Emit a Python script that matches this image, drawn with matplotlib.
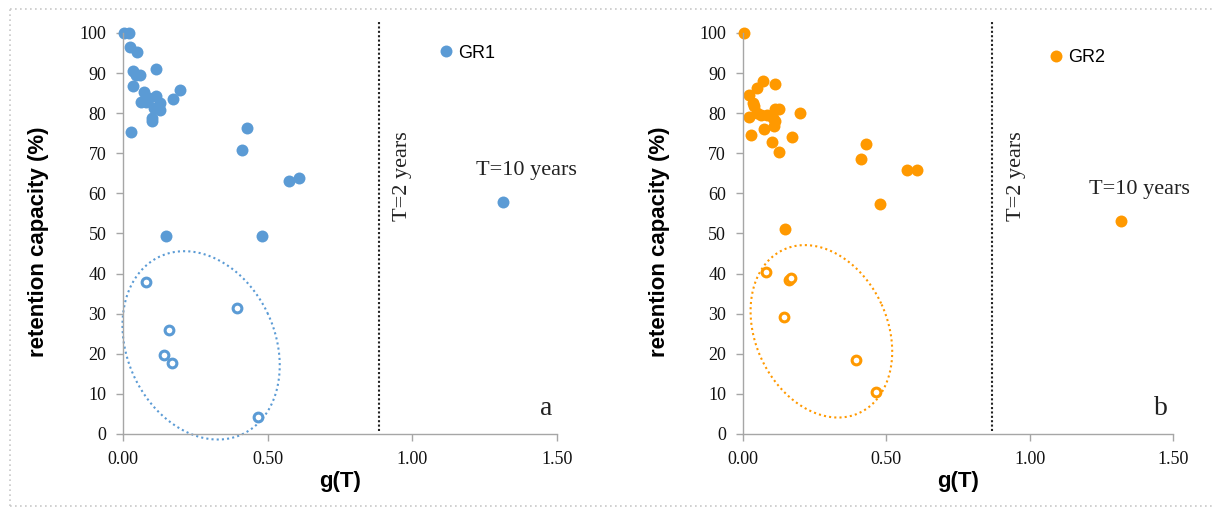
import numpy as np
import matplotlib
matplotlib.use("Agg")
import matplotlib.pyplot as plt
from matplotlib.lines import Line2D

# panel a (GR1)
gr1_filled_g = [0.003, 0.020, 0.024, 0.049, 0.033, 0.045, 0.060, 0.034, 0.113, 0.072,
                0.063, 0.080, 0.090, 0.114, 0.128, 0.107, 0.128, 0.102, 0.102, 0.173,
                0.198, 0.028, 0.429, 0.411, 0.574, 0.610, 0.148, 0.480]
gr1_filled_v = [100.0, 100.0, 96.6, 95.3, 90.5, 89.6, 89.5, 86.9, 91.1, 85.4,
                82.9, 82.8, 83.8, 84.4, 82.5, 81.2, 80.8, 78.7, 78.1, 83.6,
                85.9, 75.4, 76.4, 70.7, 63.2, 63.9, 49.3, 49.4]
gr1_open_g = [0.079, 0.160, 0.142, 0.169, 0.394, 0.467]
gr1_open_v = [37.9, 26.0, 19.7, 17.6, 31.4, 4.3]
gr1_t10 = (1.315, 57.9)

# panel b (GR2)
gr2_filled_g = [0.006, 0.021, 0.049, 0.072, 0.114, 0.037, 0.040, 0.023, 0.049, 0.065,
                0.083, 0.111, 0.128, 0.107, 0.114, 0.109, 0.028, 0.073, 0.102, 0.128,
                0.172, 0.198, 0.412, 0.428, 0.479, 0.148, 0.571, 0.608]
gr2_filled_v = [100.0, 84.6, 86.3, 88.1, 87.3, 82.6, 81.8, 79.0, 80.0, 79.6,
                79.6, 81.0, 81.0, 78.8, 78.0, 76.7, 74.6, 76.1, 72.7, 70.4,
                74.0, 80.0, 68.6, 72.2, 57.4, 51.1, 65.9, 65.9]
gr2_open_g = [0.080, 0.160, 0.169, 0.145, 0.393, 0.465]
gr2_open_v = [40.3, 38.5, 38.9, 29.2, 18.4, 10.5]
gr2_t10 = (1.316, 53.0)

blue = "#5B9BD5"
orange = "#FF9900"
axis_grey = "#a6a6a6"

fig = plt.figure(figsize=(12.14, 5.08), dpi=100)

panels = [
    dict(rect=[0.1013, 0.1457, 0.3575, 0.7894], col=blue, name="GR1",
         fg=gr1_filled_g, fv=gr1_filled_v, og=gr1_open_g, ov=gr1_open_v, t10=gr1_t10,
         t2=0.886, leg=(0.730, 0.950), t10_txt=(1.393, 64.6), t2_txt=(0.983, 64.2),
         letter="a", let_xy=(1.462, 4.7),
         ell=dict(c=(0.270, 22.1), a=74, b=98, px=290.0)),
    dict(rect=[0.6118, 0.1457, 0.3547, 0.7894], col=orange, name="GR2",
         fg=gr2_filled_g, fv=gr2_filled_v, og=gr2_open_g, ov=gr2_open_v, t10=gr2_t10,
         t2=0.868, leg=(0.7126, 0.938), t10_txt=(1.383, 59.9), t2_txt=(0.971, 64.2),
         letter="b", let_xy=(1.456, 4.8),
         ell=dict(c=(0.274, 25.6), a=66, b=90, px=287.3)),
]

serif = ["Liberation Serif", "DejaVu Serif"]
sans = ["Liberation Sans", "DejaVu Sans"]

for p in panels:
    ax = fig.add_axes(p["rect"])
    col = p["col"]
    fg = list(p["fg"]) + [p["t10"][0]]
    fv = list(p["fv"]) + [p["t10"][1]]
    ax.plot(fg, fv, "o", color=col, ms=8.6, mew=0, ls="none", clip_on=False,
            label=p["name"])
    ax.plot(p["og"], p["ov"], "o", mfc="white", mec=col, ms=6.3, mew=2.2,
            ls="none", clip_on=False)

    # dotted ellipse around the open points (built in pixel space, mapped to data)
    e = p["ell"]
    t = np.linspace(0, 2 * np.pi, 300)
    phi = np.deg2rad(25)
    dx = e["a"] * np.cos(t) * np.cos(phi) - e["b"] * np.sin(t) * np.sin(phi)
    dy = e["a"] * np.cos(t) * np.sin(phi) + e["b"] * np.sin(t) * np.cos(phi)
    ax.plot(e["c"][0] + dx / e["px"], e["c"][1] + dy / 4.01, color=col,
            lw=1.5, ls=(0, (1, 1.5)), clip_on=False)

    # T = 2 years threshold
    ax.plot([p["t2"], p["t2"]], [0.7, 102.8], color="#222222", lw=1.5,
            ls=(0, (1, 1.1)), clip_on=False)
    ax.text(p["t2_txt"][0], p["t2_txt"][1], "T=2 years", rotation=90,
            rotation_mode="anchor", ha="center", va="baseline",
            fontsize=16, family=serif, color="#222222")
    ax.text(p["t10_txt"][0], p["t10_txt"][1], "T=10 years", ha="center",
            va="baseline", fontsize=16, family=serif, color="#222222")
    ax.text(p["let_xy"][0], p["let_xy"][1], p["letter"], ha="center",
            va="baseline", fontsize=20, family=serif, color="#222222")

    ax.legend(loc="center left", bbox_to_anchor=p["leg"], frameon=False,
              borderpad=0, borderaxespad=0, handlelength=0.7,
              handletextpad=0.3, prop=dict(family=sans, size=13))

    ax.set_xlim(0, 1.5)
    ax.set_ylim(0, 100)
    ax.set_xticks([0, 0.5, 1.0, 1.5])
    ax.set_xticklabels(["0.00", "0.50", "1.00", "1.50"])
    ax.set_yticks(range(0, 101, 10))
    for s in ["top", "right"]:
        ax.spines[s].set_visible(False)
    for s in ["left", "bottom"]:
        ax.spines[s].set_color(axis_grey)
        ax.spines[s].set_linewidth(1.0)
    ax.tick_params(axis="both", direction="out", length=5, width=1,
                   color=axis_grey, labelsize=13, labelcolor="#111111")
    ax.tick_params(axis="y", pad=7)
    ax.tick_params(axis="x", pad=7)
    for lab in ax.get_xticklabels() + ax.get_yticklabels():
        lab.set_family(serif)

    ax.set_xlabel("g(T)", fontsize=16, fontweight="bold", family=sans)
    ax.set_ylabel("retention capacity (%)", fontsize=16, fontweight="bold",
                  family=sans)
    ax.xaxis.set_label_coords(0.5, -0.092)
    ax.yaxis.set_label_coords(-0.17, 0.48)

# dotted frame around the figure
frame = dict(color="#c8c8c8", lw=1.2, ls=(0, (1, 2)), transform=fig.transFigure)
fig.add_artist(Line2D([0.0082, 1.0], [0.9823, 0.9823], **frame))
fig.add_artist(Line2D([0.0082, 0.0082], [0.003, 0.9823], **frame))
fig.add_artist(Line2D([0.0082, 1.0], [0.003, 0.003], **frame))

fig.savefig("out.png", dpi=100)
